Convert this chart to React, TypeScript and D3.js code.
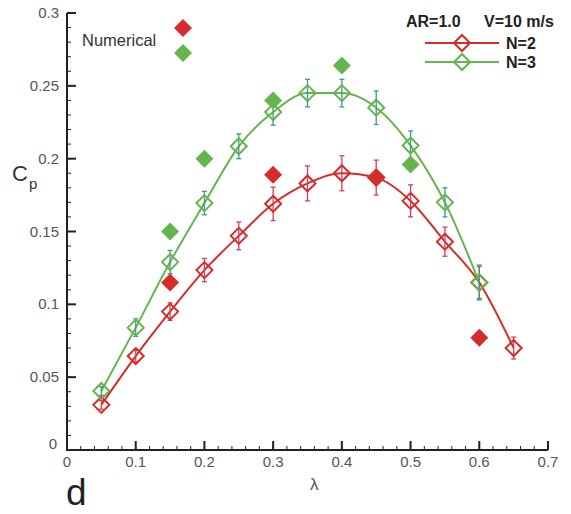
import React from "react";
import * as d3 from "d3";

const lambdaN2 = [0.05, 0.1, 0.15, 0.2, 0.25, 0.3, 0.35, 0.4, 0.45, 0.5, 0.55, 0.6, 0.65];
const cpN2 = [0.031, 0.0645, 0.095, 0.1235, 0.147, 0.169, 0.183, 0.19, 0.187, 0.171, 0.143, 0.115, 0.07];
const errN2 = [0.003, 0.004, 0.006, 0.008, 0.0095, 0.0115, 0.012, 0.012, 0.012, 0.011, 0.01, 0.011, 0.0075];

const lambdaN3 = [0.05, 0.1, 0.15, 0.2, 0.25, 0.3, 0.35, 0.4, 0.45, 0.5, 0.55, 0.6];
const cpN3 = [0.0405, 0.084, 0.129, 0.1695, 0.2085, 0.232, 0.245, 0.245, 0.235, 0.209, 0.17, 0.115];
const errN3 = [0.003, 0.006, 0.008, 0.008, 0.0085, 0.009, 0.0095, 0.0095, 0.0115, 0.01, 0.01, 0.012];

const numLambdaN2 = [0.15, 0.3, 0.45, 0.6];
const numCpN2 = [0.115, 0.189, 0.187, 0.077];
const numLambdaN3 = [0.15, 0.2, 0.3, 0.4, 0.5];
const numCpN3 = [0.15, 0.2, 0.24, 0.264, 0.196];

const xTicks = [0, 0.1, 0.2, 0.3, 0.4, 0.5, 0.6, 0.7];
const yTicks = [0, 0.05, 0.1, 0.15, 0.2, 0.25, 0.3];
const xMinor = d3.range(0, 0.7001, 0.02);
const yMinor = d3.range(0, 0.3001, 0.01);

const RED = "#d62b2b";
const GREEN = "#64b54f";
const RED_ERR = "#d0405a";
const GREEN_ERR = "#3b9a8c";
const AXIS = "#222";
const LABEL = "#555";
const FONT = "Arial, 'Liberation Sans', Helvetica, sans-serif";

const x = d3.scaleLinear().domain([0, 0.7]).range([67, 548]);
const y = d3.scaleLinear().domain([0, 0.3]).range([450, 13]);

function diamond(cx: number, cy: number, r: number) {
  return `M${cx},${cy - r}L${cx + r},${cy}L${cx},${cy + r}L${cx - r},${cy}Z`;
}

function Series({ xs, ys, es, color, errColor }: any) {
  const line = d3
    .line<number>()
    .x((_, i) => x(xs[i]))
    .y((d) => y(d))
    .curve(d3.curveMonotoneX);
  return (
    <g>
      <path d={line(ys) || ""} fill="none" stroke={color} strokeWidth={2} />
      {ys.map((v: number, i: number) => {
        const cx = x(xs[i]);
        const y1 = y(v + es[i]);
        const y2 = y(v - es[i]);
        return (
          <g key={"e" + i} stroke={errColor} strokeWidth={1.3}>
            <line x1={cx} x2={cx} y1={y1} y2={y2} />
            <line x1={cx - 2.5} x2={cx + 2.5} y1={y1} y2={y1} />
            <line x1={cx - 2.5} x2={cx + 2.5} y1={y2} y2={y2} />
          </g>
        );
      })}
      {ys.map((v: number, i: number) => (
        <path key={"m" + i} d={diamond(x(xs[i]), y(v), 8)} fill="none" stroke={color} strokeWidth={2} />
      ))}
    </g>
  );
}

export default function App() {
  return (
    <svg
      width={571}
      height={514}
      style={{ position: "absolute", left: 0, top: 0, background: "#fff" }}
      fontFamily={FONT}
    >
      <rect x={0} y={0} width={571} height={514} fill="#fff" />
      <g stroke={AXIS}>
        <line x1={x(0)} x2={x(0)} y1={y(0.3)} y2={y(0) + 1} strokeWidth={2} />
        <line x1={x(0) - 1} x2={x(0.7)} y1={y(0)} y2={y(0)} strokeWidth={2} />
        {xMinor.map((t, i) => (
          <line key={"xm" + i} x1={x(t)} x2={x(t)} y1={y(0)} y2={y(0) - 4} strokeWidth={1} />
        ))}
        {xTicks.map((t, i) => (
          <line key={"xM" + i} x1={x(t)} x2={x(t)} y1={y(0)} y2={y(0) - 9} strokeWidth={2} />
        ))}
        {yMinor.map((t, i) => (
          <line key={"ym" + i} x1={x(0)} x2={x(0) + 4} y1={y(t)} y2={y(t)} strokeWidth={1} />
        ))}
        {yTicks.map((t, i) => (
          <line key={"yM" + i} x1={x(0)} x2={x(0) + 9} y1={y(t)} y2={y(t)} strokeWidth={2} />
        ))}
      </g>
      {xTicks.map((t, i) => (
        <text key={"xl" + i} x={x(t)} y={467} textAnchor="middle" fontSize={15} fill={LABEL}>
          {t === 0 ? "0" : d3.format(".1f")(t)}
        </text>
      ))}
      {yTicks.map((t, i) => (
        <text
          key={"yl" + i}
          x={t === 0 ? 57 : 59}
          y={t === 0 ? y(t) - 1 : y(t) + 5}
          textAnchor="end"
          fontSize={15}
          fill={LABEL}
        >
          {t === 0 ? "0" : String(t)}
        </text>
      ))}
      <text x={310} y={490} fontSize={17} fill={LABEL}>λ</text>
      <text x={12} y={181} fontSize={22} fill="#333">C</text>
      <text x={29} y={189} fontSize={15} fill="#333">p</text>
      <text x={66} y={505} fontSize={37} fill="#222">d</text>

      <Series xs={lambdaN2} ys={cpN2} es={errN2} color={RED} errColor={RED_ERR} />
      <Series xs={lambdaN3} ys={cpN3} es={errN3} color={GREEN} errColor={GREEN_ERR} />

      {numLambdaN2.map((l, i) => (
        <path key={"nr" + i} d={diamond(x(l), y(numCpN2[i]), 9)} fill={RED} />
      ))}
      {numLambdaN3.map((l, i) => (
        <path key={"ng" + i} d={diamond(x(l), y(numCpN3[i]), 9)} fill={GREEN} />
      ))}

      <text x={82} y={46} fontSize={16.5} fill="#333">Numerical</text>
      <path d={diamond(183, 28, 9)} fill={RED} />
      <path d={diamond(183, 53, 9)} fill={GREEN} />

      <text x={406} y={27} fontSize={16} fontWeight="bold" fill="#222">AR=1.0</text>
      <text x={484} y={27} fontSize={16} fontWeight="bold" fill="#222">V=10 m/s</text>
      <line x1={425} x2={499} y1={43} y2={43} stroke={RED} strokeWidth={2} />
      <path d={diamond(462, 43, 8)} fill="none" stroke={RED} strokeWidth={2} />
      <text x={506} y={49} fontSize={16} fontWeight="bold" fill="#222">N=2</text>
      <line x1={425} x2={499} y1={62} y2={62} stroke={GREEN} strokeWidth={2} />
      <path d={diamond(462, 62, 8)} fill="none" stroke={GREEN} strokeWidth={2} />
      <text x={506} y={68} fontSize={16} fontWeight="bold" fill="#222">N=3</text>
    </svg>
  );
}
